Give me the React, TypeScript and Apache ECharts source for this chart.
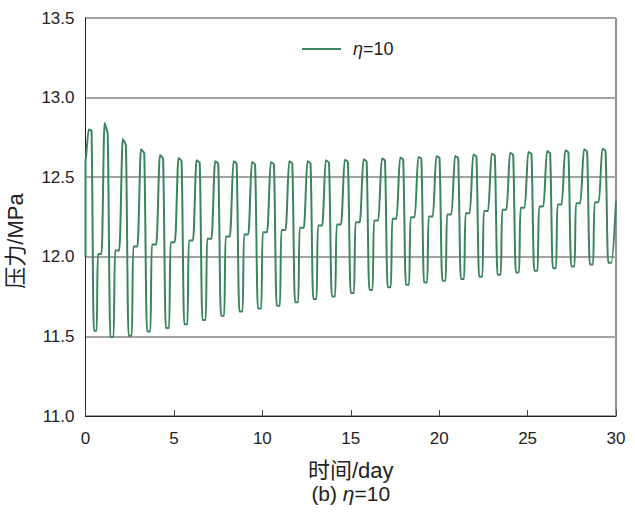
import React, { useEffect, useRef } from "react";
import * as echarts from "echarts";

// ---- Data ----
const seriesName = "η=10";
const xTicks = [0, 5, 10, 15, 20, 25, 30];
const yTicks = [11.0, 11.5, 12.0, 12.5, 13.0, 13.5];

// initial ramp at t = 0 (days, MPa)
const startTimes = [0, 0, 0.04];
const startValues = [12.0, 12.6, 12.64];

// start time of every pressure peak (day)
const peakStart = [
  0.19, 1.08, 2.11, 3.14, 4.21, 5.26, 6.28, 7.33, 8.37, 9.41, 10.48, 11.52, 12.55, 13.59, 14.66,
  15.72, 16.76, 17.79, 18.82, 19.84, 20.9, 21.93, 22.97, 24.01, 25.04, 26.1, 27.13, 28.19, 29.23,
];
// peak top (MPa)
const peakTop = [
  12.8, 12.84, 12.74, 12.675, 12.64, 12.62, 12.606, 12.6, 12.6, 12.595, 12.595, 12.6, 12.6, 12.606,
  12.61, 12.612, 12.617, 12.623, 12.627, 12.631, 12.633, 12.642, 12.648, 12.654, 12.658, 12.664,
  12.669, 12.675, 12.679,
];
// value where the peak starts to fall (MPa)
const peakEnd = [
  12.79, 12.77, 12.7, 12.65, 12.615, 12.6, 12.59, 12.585, 12.585, 12.58, 12.58, 12.585, 12.585, 12.59,
  12.595, 12.6, 12.605, 12.61, 12.615, 12.62, 12.62, 12.63, 12.635, 12.64, 12.645, 12.65, 12.655,
  12.66, 12.665,
];
// trough after each peak (MPa)
const troughs = [
  11.535, 11.497, 11.504, 11.531, 11.552, 11.577, 11.603, 11.63, 11.657, 11.675, 11.693, 11.714,
  11.735, 11.751, 11.773, 11.792, 11.808, 11.825, 11.838, 11.85, 11.861, 11.875, 11.888, 11.902,
  11.913, 11.928, 11.939, 11.951, 11.962,
];
// intermediate plateau after each trough (MPa)
const shoulders = [
  12.018, 12.039, 12.064, 12.077, 12.091, 12.102, 12.113, 12.127, 12.14, 12.154, 12.169, 12.182,
  12.196, 12.203, 12.217, 12.228, 12.239, 12.249, 12.253, 12.266, 12.274, 12.287, 12.295, 12.308,
  12.316, 12.329, 12.337, 12.343,
];
const lastCycleLength = 1.04;
const endTime = 30;
const endValue = 12.35;

// phase fractions of one cycle (peak end, trough start, trough end, shoulder start, shoulder end)
const phase = [0.17, 0.32, 0.49, 0.58, 0.8];

function buildData(): [number, number][] {
  const pts: [number, number][] = [];
  for (let i = 0; i < startTimes.length; i++) pts.push([startTimes[i], startValues[i]]);
  const n = peakStart.length;
  for (let i = 0; i < n; i++) {
    const s = peakStart[i];
    const g = i < n - 1 ? peakStart[i + 1] - s : lastCycleLength;
    pts.push([s, peakTop[i]]);
    pts.push([s + phase[0] * g, peakEnd[i]]);
    pts.push([s + phase[1] * g, troughs[i]]);
    pts.push([s + phase[2] * g, troughs[i]]);
    if (i < shoulders.length) {
      pts.push([s + phase[3] * g, shoulders[i]]);
      pts.push([s + phase[4] * g, shoulders[i]]);
    } else {
      pts.push([endTime, endValue]);
    }
  }
  return pts;
}

const FONT = "'Liberation Sans', Arial, 'Noto Sans CJK SC', sans-serif";
const GREEN = "#3b845e";

export default function App() {
  const ref = useRef<HTMLDivElement>(null);
  useEffect(() => {
    document.body.style.margin = "0";
    const chart = echarts.init(ref.current!, null, { renderer: "svg" });
    const gridLeft = 85.5;
    const gridRight = 19;
    const gridCenterX = gridLeft + (635 - gridLeft - gridRight) / 2;
    chart.setOption({
      animation: false,
      backgroundColor: "#ffffff",
      textStyle: { fontFamily: FONT },
      grid: {
        left: gridLeft,
        right: gridRight,
        top: 18,
        bottom: 106,
        show: true,
        borderColor: "#222",
        borderWidth: 1,
        backgroundColor: "transparent",
      },
      legend: {
        left: 297,
        top: 35,
        icon: "rect",
        itemWidth: 39,
        itemHeight: 2,
        data: [seriesName],
        formatter: () => "{g|}{i|η}=10",
        textStyle: {
          fontSize: 18,
          color: "#222",
          fontFamily: FONT,
          rich: {
            g: { width: 7 },
            i: { fontStyle: "italic", fontSize: 18, color: "#222", fontFamily: FONT },
          },
        },
      },
      xAxis: {
        type: "value",
        min: xTicks[0],
        max: xTicks[xTicks.length - 1],
        interval: xTicks[1] - xTicks[0],
        name: "时间/day",
        nameLocation: "middle",
        nameGap: 43,
        nameTextStyle: { fontSize: 22, color: "#222", fontFamily: FONT },
        axisLine: { show: true, lineStyle: { color: "#222", width: 1 } },
        axisTick: { show: true, inside: true, length: 6, lineStyle: { color: "#444", width: 1 } },
        axisLabel: { fontSize: 17, color: "#222", margin: 14, fontFamily: FONT },
        splitLine: { show: false },
      },
      yAxis: {
        type: "value",
        min: yTicks[0],
        max: yTicks[yTicks.length - 1],
        interval: yTicks[1] - yTicks[0],
        axisLine: { show: true, lineStyle: { color: "#222", width: 1 } },
        axisTick: { show: false },
        axisLabel: {
          fontSize: 17,
          color: "#222",
          margin: 11,
          fontFamily: FONT,
          formatter: (v: number) => v.toFixed(1),
        },
        splitLine: { show: true, lineStyle: { color: "#a3a3a3", width: 2 } },
      },
      graphic: [
        {
          type: "text",
          x: 15,
          y: 241,
          rotation: Math.PI / 2,
          style: {
            text: "压力/MPa",
            fill: "#222",
            fontSize: 22,
            fontFamily: FONT,
            textAlign: "center",
            textVerticalAlign: "middle",
          },
        },
        {
          type: "text",
          x: gridCenterX,
          y: 493,
          style: {
            text: "(b) {i|η}=10",
            fill: "#222",
            fontSize: 21,
            fontFamily: FONT,
            textAlign: "center",
            textVerticalAlign: "middle",
            rich: {
              i: { fontStyle: "italic", fontSize: 21, fontFamily: FONT, fill: "#222" },
            },
          },
        },
      ],
      series: [
        {
          name: seriesName,
          type: "line",
          data: buildData(),
          symbol: "none",
          showSymbol: false,
          smooth: 0.2,
          lineStyle: { color: GREEN, width: 2 },
          itemStyle: { color: GREEN },
        },
      ],
    });
    return () => chart.dispose();
  }, []);
  return <div ref={ref} style={{ width: 635, height: 522 }} />;
}
